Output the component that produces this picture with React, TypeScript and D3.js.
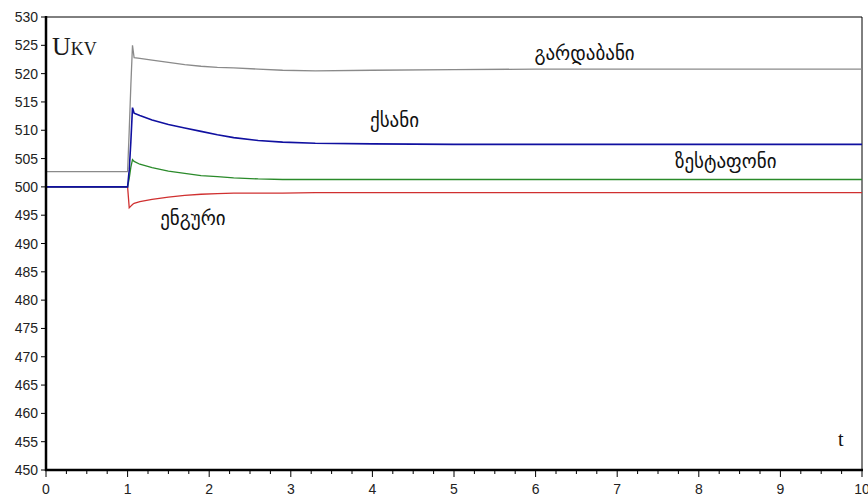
import React from "react";
import * as d3 from "d3";

const times = [0, 1, 1.02, 1.04, 1.06, 1.08, 1.15, 1.3, 1.5, 1.7, 1.9, 2.1, 2.3, 2.6, 2.9, 3.3, 4, 5, 6, 7, 8, 9, 10];
const gardabani = [502.7, 502.7, 510, 518, 525, 522.8, 522.7, 522.4, 522, 521.6, 521.3, 521.1, 521, 520.8, 520.6, 520.5, 520.6, 520.7, 520.8, 520.8, 520.8, 520.8, 520.8];
const ksani = [500, 500, 503, 508, 514, 513, 512.6, 511.8, 511, 510.4, 509.8, 509.2, 508.7, 508.2, 507.9, 507.7, 507.6, 507.5, 507.5, 507.5, 507.5, 507.5, 507.5];
const zestaponi = [500, 500, 501.5, 503.5, 504.8, 504.5, 504, 503.4, 502.8, 502.4, 502, 501.8, 501.6, 501.4, 501.3, 501.3, 501.3, 501.3, 501.3, 501.3, 501.3, 501.3, 501.3];
const enguri = [500, 500, 496.3, 496.6, 496.9, 497.1, 497.4, 497.8, 498.2, 498.5, 498.7, 498.8, 498.9, 498.9, 498.9, 499, 499, 499, 499, 499, 499, 499, 499];

const yTicks = [450, 455, 460, 465, 470, 475, 480, 485, 490, 495, 500, 505, 510, 515, 520, 525, 530];
const xTicks = [0, 1, 2, 3, 4, 5, 6, 7, 8, 9, 10];

const seriesNames = ["გარდაბანი", "ქსანი", "ზესტაფონი", "ენგური"];
const seriesColors = ["#8a8a8a", "#1010a0", "#2a8a2a", "#d03030"];
const seriesData = [gardabani, ksani, zestaponi, enguri];
const labelPos = [[6.6, 522.4], [4.27, 510.6], [8.33, 503.4], [1.8, 493.3]];

export default function App() {
  const W = 868, H = 498;
  const x = d3.scaleLinear().domain([0, 10]).range([46, 862]);
  const y = d3.scaleLinear().domain([450, 530]).range([470, 17]);
  const minor = d3.range(0, 10.001, 0.25);
  const line = d3.line<number>().x((_, i) => x(times[i])).y((d) => y(d));
  const order = [3, 2, 1, 0];
  return (
    <svg width={W} height={H} style={{ position: "absolute", left: 0, top: 0, background: "#fff" }}>
      <rect x={0} y={0} width={W} height={H} fill="#fff" />
      {/* frame */}
      <line x1={x(0)} x2={x(10)} y1={y(530)} y2={y(530)} stroke="#000" strokeWidth={1} />
      <line x1={x(10)} x2={x(10)} y1={y(530)} y2={y(450)} stroke="#000" strokeWidth={1} />
      {/* series */}
      {order.map((i) => (
        <path key={i} d={line(seriesData[i]) || ""} fill="none" stroke={seriesColors[i]} strokeWidth={i === 1 ? 1.6 : 1.3} />
      ))}
      {/* axes */}
      <line x1={x(0)} x2={x(0)} y1={y(530) - 1} y2={y(450) + 1} stroke="#000" strokeWidth={2.5} />
      <line x1={x(0) - 1} x2={x(10) + 1} y1={y(450)} y2={y(450)} stroke="#000" strokeWidth={2.5} />
      {yTicks.map((t) => (
        <g key={t}>
          <line x1={x(0) - 5} x2={x(0)} y1={y(t)} y2={y(t)} stroke="#000" strokeWidth={1} />
          <text x={38} y={y(t) + 5} textAnchor="end" fontFamily="Liberation Sans, Arial, sans-serif" fontSize={14} fill="#222">{t}</text>
        </g>
      ))}
      {minor.map((t, i) => (
        <line key={i} x1={x(t)} x2={x(t)} y1={y(450)} y2={y(450) + (i % 4 === 0 ? 7 : 4)} stroke="#000" strokeWidth={1} />
      ))}
      {xTicks.map((t) => (
        <text key={t} x={x(t)} y={494} textAnchor="middle" fontFamily="Liberation Sans, Arial, sans-serif" fontSize={14} fill="#222">{t}</text>
      ))}
      {/* labels */}
      {seriesNames.map((n, i) => (
        <text key={n} x={x(labelPos[i][0])} y={y(labelPos[i][1])} textAnchor="middle" fontFamily="DejaVu Sans, sans-serif" fontSize={19} fill="#111">{n}</text>
      ))}
      <text x={52} y={55} fontFamily="Liberation Serif, Times New Roman, serif" fill="#1a1a1a">
        <tspan fontSize={26}>U</tspan><tspan fontSize={18}>KV</tspan>
      </text>
      <text x={838} y={446} fontFamily="Liberation Serif, serif" fontSize={20} fill="#111">t</text>
    </svg>
  );
}
